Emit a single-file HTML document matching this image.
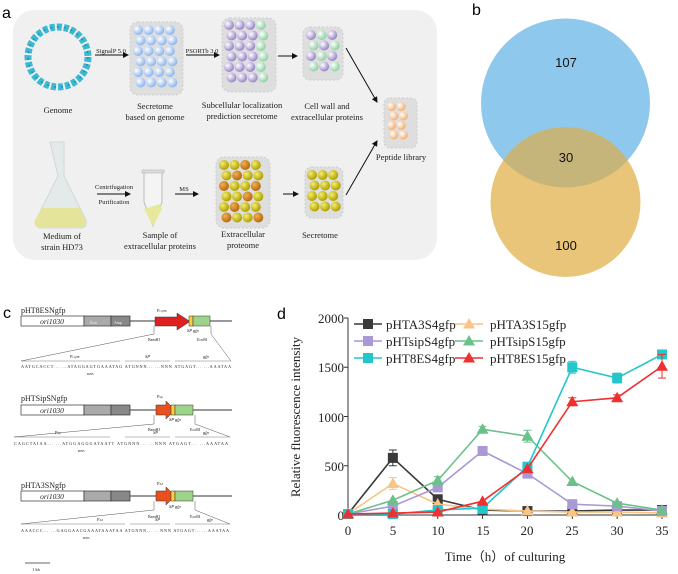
<!DOCTYPE html>
<html><head><meta charset="utf-8"><style>
html,body{margin:0;padding:0;background:#fff}
svg{display:block}
.s{font-family:"Liberation Serif",serif}
.a{font-family:"Liberation Sans",sans-serif}
</style></head><body>
<svg id="g" width="678" height="574" viewBox="0 0 678 574" xmlns="http://www.w3.org/2000/svg">
<defs>
<marker id="ar" markerWidth="6" markerHeight="6" refX="5" refY="3" orient="auto"><path d="M0,0 L6,3 L0,6z" fill="#111"/></marker>
<radialGradient id="bb" cx="35%" cy="35%" r="65%"><stop offset="0" stop-color="#fff"/><stop offset="1" stop-color="#8fb6ec"/></radialGradient>
<radialGradient id="bp" cx="35%" cy="35%" r="65%"><stop offset="0" stop-color="#fff"/><stop offset="1" stop-color="#9a86c8"/></radialGradient>
<radialGradient id="bg" cx="35%" cy="35%" r="65%"><stop offset="0" stop-color="#fff"/><stop offset="1" stop-color="#8fd2a4"/></radialGradient>
<radialGradient id="bo" cx="35%" cy="35%" r="65%"><stop offset="0" stop-color="#fff"/><stop offset="1" stop-color="#f5b070"/></radialGradient>
<radialGradient id="by" cx="35%" cy="35%" r="65%"><stop offset="0" stop-color="#f4ee70"/><stop offset="1" stop-color="#b0a000"/></radialGradient>
<radialGradient id="bd" cx="35%" cy="35%" r="65%"><stop offset="0" stop-color="#f2b050"/><stop offset="1" stop-color="#b86a10"/></radialGradient>
</defs>
<!-- panel a -->
<text x="2" y="18" class="a" font-size="16">a</text>
<rect x="13" y="10" width="424" height="250" rx="22" fill="#f0f0f0"/>
<circle cx="58" cy="57" r="30" fill="none" stroke="#3cb9d0" stroke-width="7" stroke-dasharray="5 2"/>
<circle cx="58" cy="57" r="30" fill="none" stroke="#1e90b8" stroke-width="1.5" stroke-dasharray="2 5"/>
<g id="boxes">
<rect x="130" y="22" width="53" height="73" rx="8" fill="#dedede" stroke="#ccc" stroke-dasharray="2 2"/>
<rect x="222" y="18" width="54" height="74" rx="8" fill="#dedede" stroke="#ccc" stroke-dasharray="2 2"/>
<rect x="303" y="27" width="40" height="53" rx="7" fill="#dedede" stroke="#ccc" stroke-dasharray="2 2"/>
<rect x="384" y="98" width="33" height="50" rx="6" fill="#dedede" stroke="#ccc" stroke-dasharray="2 2"/>
<rect x="216" y="157" width="54" height="71" rx="8" fill="#dedede" stroke="#ccc" stroke-dasharray="2 2"/>
<rect x="305" y="167" width="38" height="51" rx="7" fill="#dedede" stroke="#ccc" stroke-dasharray="2 2"/>
</g>
<g id="balls"></g>
<!-- flask -->
<path d="M50,142 h14 v34 l22,44 q2,8 -6,8 h-38 q-8,0 -6,-8 l22,-44z" fill="#e4eaea" stroke="#cfd8d8"/>
<path d="M42,208 h38 l5,12 q2,8 -6,8 h-38 q-8,0 -6,-8z" fill="#e4e49a"/>
<!-- tube -->
<path d="M144,172 h18 v30 l-9,24 l-9,-24z" fill="#f4f4f4" stroke="#bbb"/>
<path d="M144,209 l9,17 l9,-17 l-2,-5 z" fill="#e8e89a"/>
<rect x="142" y="170" width="22" height="3" fill="#ddd" stroke="#aaa" stroke-width=".5"/>
<g stroke="#111" stroke-width="1" marker-end="url(#ar)" fill="none">
<line x1="95" y1="55" x2="128" y2="55"/><line x1="186" y1="55" x2="219" y2="55"/>
<line x1="278" y1="56" x2="297" y2="56"/><line x1="346" y1="48" x2="377" y2="102"/>
<line x1="97" y1="194" x2="130" y2="194"/><line x1="175" y1="194" x2="198" y2="194"/>
<line x1="283" y1="194" x2="298" y2="194"/><line x1="346" y1="195" x2="377" y2="141"/>
</g>
<g class="s" font-size="8.5" text-anchor="middle" fill="#222">
<text x="111" y="53" font-size="6.5">SignalP 5.0</text><text x="202" y="53" font-size="6.5">PSORTb 3.0</text>
<text x="114" y="189" font-size="6.5">Centrifugation</text><text x="114" y="204" font-size="6.5">Purification</text>
<text x="184" y="191" font-size="6.5">MS</text>
<text x="58" y="113">Genome</text>
<text x="155" y="109">Secretome</text><text x="155" y="120">based on genome</text>
<text x="242" y="108">Subcellular localization</text><text x="242" y="119">prediction secretome</text>
<text x="327" y="109">Cell wall and</text><text x="327" y="120">extracellular proteins</text>
<text x="401" y="160">Peptide library</text>
<text x="62" y="239">Medium of</text><text x="62" y="250">strain HD73</text>
<text x="160" y="238">Sample of</text><text x="160" y="249">extracellular proteins</text>
<text x="243" y="237">Extracellular</text><text x="243" y="248">proteome</text>
<text x="320" y="238">Secretome</text>
</g>
<!-- panel b -->
<text x="472" y="15" class="a" font-size="16">b</text>
<circle cx="565.5" cy="103" r="84.5" fill="#8fc8ed"/>
<circle cx="565.5" cy="202" r="75" fill="#e8c578"/>
<clipPath id="cb"><circle cx="565.5" cy="103" r="84.5"/></clipPath>
<circle cx="565.5" cy="202" r="75" fill="#c6b57b" clip-path="url(#cb)"/>
<g class="a" font-size="13" text-anchor="middle" fill="#111">
<text x="566" y="67">107</text><text x="566" y="162">30</text><text x="566" y="250">100</text>
</g>
<!-- panel c -->
<text x="3" y="318" class="a" font-size="16">c</text>
<g class="s" fill="#222">
<text x="21" y="313" font-size="8">pHT8ESNgfp</text>
<line x1="130" y1="321" x2="232" y2="321" stroke="#333"/>
<rect x="21" y="316" width="63" height="10" fill="#fff" stroke="#333" stroke-width=".7"/>
<rect x="84" y="316" width="27" height="10" fill="#aaa" stroke="#333" stroke-width=".7"/>
<rect x="111" y="316" width="19" height="10" fill="#888" stroke="#333" stroke-width=".7"/>
<text x="52" y="324" font-size="7.5" font-style="italic" text-anchor="middle">ori1030</text>
<text x="90" y="324" font-size="4" fill="#eee">Erm</text><text x="114" y="324" font-size="4" fill="#eee">Amp</text>
<path d="M155,317 h22 v-4 l13,8.5 l-13,8.5 v-4 h-22z" fill="#e02020" stroke="#333" stroke-width=".5"/>
<rect x="189" y="316" width="4" height="10" fill="#f5d040" stroke="#333" stroke-width=".5"/>
<rect x="193" y="316" width="17" height="10" fill="#9ed48a" stroke="#333" stroke-width=".5"/>
<text x="157" y="312" font-size="4.5">P<tspan font-size="3">cry8E</tspan></text>
<text x="187" y="332" font-size="4.5" font-style="italic">SP gfp</text>
<text x="148" y="341" font-size="4">BamHI</text><text x="197" y="341" font-size="4">EcoRI</text>
<line x1="154" y1="326" x2="154" y2="334" stroke="#555" stroke-width=".5"/><line x1="211" y1="326" x2="211" y2="334" stroke="#555" stroke-width=".5"/>
<line x1="154" y1="334" x2="21" y2="361" stroke="#555" stroke-width=".5"/><line x1="211" y1="334" x2="231" y2="361" stroke="#555" stroke-width=".5"/>
<text x="70" y="358" font-size="4.5">P<tspan font-size="3">cry8E</tspan></text><text x="145" y="358" font-size="4.5" font-style="italic">SP</text><text x="203" y="358" font-size="4.5" font-style="italic">gfp</text>
<line x1="21" y1="361" x2="120" y2="361" stroke="#555" stroke-width=".4"/><line x1="125" y1="361" x2="170" y2="361" stroke="#555" stroke-width=".4"/><line x1="175" y1="361" x2="231" y2="361" stroke="#555" stroke-width=".4"/>
<text x="21" y="368" font-size="4.2" textLength="210">AATGCACCT... ...ATAGGAGTGAAATAG ATGNNN... ...NNN ATGAGT... ...AAATAA</text>
<text x="87" y="375" font-size="3.5">RBS</text>
</g>
<g class="s" fill="#222">
<text x="21" y="401" font-size="8">pHTSipSNgfp</text>
<line x1="130" y1="410" x2="232" y2="410" stroke="#333"/>
<rect x="21" y="405" width="63" height="10" fill="#fff" stroke="#333" stroke-width=".7"/>
<rect x="84" y="405" width="27" height="10" fill="#aaa" stroke="#333" stroke-width=".7"/>
<rect x="111" y="405" width="19" height="10" fill="#888" stroke="#333" stroke-width=".7"/>
<text x="52" y="413" font-size="7.5" font-style="italic" text-anchor="middle">ori1030</text>
<path d="M156,405 h10 v-4 l9,9 l-9,9 v-4 h-10z" fill="#e8501e" stroke="#333" stroke-width=".5"/>
<rect x="171" y="405" width="4" height="10" fill="#f5d040" stroke="#333" stroke-width=".5"/>
<rect x="175" y="405" width="18" height="10" fill="#9ed48a" stroke="#333" stroke-width=".5"/>
<text x="157" y="398" font-size="4.5">P<tspan font-size="3">sip</tspan></text>
<text x="169" y="421" font-size="4.5" font-style="italic">SP gfp</text>
<text x="148" y="431" font-size="4">BamHI</text><text x="190" y="431" font-size="4">EcoRI</text>
<line x1="154" y1="415" x2="154" y2="424" stroke="#555" stroke-width=".5"/><line x1="195" y1="415" x2="195" y2="424" stroke="#555" stroke-width=".5"/>
<line x1="154" y1="424" x2="14" y2="437" stroke="#555" stroke-width=".5"/><line x1="195" y1="424" x2="230" y2="437" stroke="#555" stroke-width=".5"/>
<text x="55" y="434" font-size="4.5">P<tspan font-size="3">sip</tspan></text><text x="153" y="434" font-size="4.5" font-style="italic">SP</text><text x="203" y="434" font-size="4.5" font-style="italic">gfp</text>
<line x1="14" y1="437" x2="110" y2="437" stroke="#555" stroke-width=".4"/><line x1="125" y1="437" x2="170" y2="437" stroke="#555" stroke-width=".4"/><line x1="175" y1="437" x2="230" y2="437" stroke="#555" stroke-width=".4"/>
<text x="14" y="445" font-size="4.2" textLength="214">CAGCTAIAA... ...ATGGAGGGATAATT ATGNNN... ...NNN ATGAGT... ...AAATAA</text>
<text x="78" y="452" font-size="3.5">RBS</text>
</g>
<g class="s" fill="#222">
<text x="21" y="488" font-size="8">pHTA3SNgfp</text>
<line x1="130" y1="496" x2="232" y2="496" stroke="#333"/>
<rect x="21" y="491" width="63" height="10" fill="#fff" stroke="#333" stroke-width=".7"/>
<rect x="84" y="491" width="27" height="10" fill="#aaa" stroke="#333" stroke-width=".7"/>
<rect x="111" y="491" width="19" height="10" fill="#888" stroke="#333" stroke-width=".7"/>
<text x="52" y="499" font-size="7.5" font-style="italic" text-anchor="middle">ori1030</text>
<path d="M156,491 h10 v-4 l9,9 l-9,9 v-4 h-10z" fill="#e8501e" stroke="#333" stroke-width=".5"/>
<rect x="171" y="491" width="4" height="10" fill="#f5d040" stroke="#333" stroke-width=".5"/>
<rect x="175" y="491" width="18" height="10" fill="#9ed48a" stroke="#333" stroke-width=".5"/>
<text x="157" y="485" font-size="4.5">P<tspan font-size="3">A3</tspan></text>
<text x="169" y="508" font-size="4.5" font-style="italic">SP gfp</text>
<text x="148" y="518" font-size="4">BamHI</text><text x="190" y="518" font-size="4">EcoRI</text>
<line x1="154" y1="501" x2="154" y2="510" stroke="#555" stroke-width=".5"/><line x1="195" y1="501" x2="195" y2="510" stroke="#555" stroke-width=".5"/>
<line x1="154" y1="510" x2="21" y2="524" stroke="#555" stroke-width=".5"/><line x1="195" y1="510" x2="230" y2="524" stroke="#555" stroke-width=".5"/>
<text x="97" y="521" font-size="4.5">P<tspan font-size="3">A3</tspan></text><text x="155" y="521" font-size="4.5" font-style="italic">SP</text><text x="207" y="521" font-size="4.5" font-style="italic">gfp</text>
<line x1="21" y1="524" x2="125" y2="524" stroke="#555" stroke-width=".4"/><line x1="130" y1="524" x2="170" y2="524" stroke="#555" stroke-width=".4"/><line x1="175" y1="524" x2="230" y2="524" stroke="#555" stroke-width=".4"/>
<text x="21" y="532" font-size="4.2" textLength="208">AAACCC... ...GAGGAACGAAATAAATAA ATGNNN... ...NNN ATGAGT... ...AAATAA</text>
<text x="83" y="539" font-size="3.5">RBS</text>
<line x1="25" y1="563" x2="50" y2="563" stroke="#333" stroke-width=".7"/>
<text x="32" y="571" font-size="4.5">1 kb</text>
</g>
<!-- panel d -->
<text x="277" y="319" class="a" font-size="16">d</text>
<g class="s" font-size="13" fill="#222">
<line x1="348" y1="318" x2="348" y2="515" stroke="#333"/>
<line x1="348" y1="515" x2="662" y2="515" stroke="#333"/>
<g id="ticks" stroke="#333"></g>
<g text-anchor="end">
<text x="344" y="520">0</text><text x="344" y="471">500</text><text x="344" y="422">1000</text><text x="344" y="372">1500</text><text x="344" y="323">2000</text>
</g>
<g text-anchor="middle">
<text x="348" y="535">0</text><text x="393" y="535">5</text><text x="438" y="535">10</text><text x="483" y="535">15</text><text x="527" y="535">20</text><text x="572" y="535">25</text><text x="617" y="535">30</text><text x="662" y="535">35</text>
<text x="505" y="561">Time（h）of culturing</text>
<text transform="translate(300,417) rotate(-90)">Relative fluorescence intensity</text>
</g>
<g id="series"></g>
<text x="386" y="329">pHTA3S4gfp</text><text x="490" y="329">pHTA3S15gfp</text>
<text x="386" y="346">pHTsipS4gfp</text><text x="490" y="346">pHTsipS15gfp</text>
<text x="386" y="363">pHT8ES4gfp</text><text x="490" y="363">pHT8ES15gfp</text>
</g>
</svg>
<script>
var NS="http://www.w3.org/2000/svg";
function el(p,t,a){var e=document.createElementNS(NS,t);for(var k in a)e.setAttribute(k,a[k]);p.appendChild(e);return e;}
var B=document.getElementById("balls");
function grid(x0,y0,x1,y1,r,fills){var i=0,row=0;for(var y=y0+r;y<=y1-r+0.1;y+=2*r+0.5){var off=(row%2)?r*0.5:0;row++;for(var x=x0+r+off;x<=x1-r+0.1;x+=2*r+0.6){el(B,"circle",{cx:x,cy:y,r:r,fill:"url(#"+fills[(i*7+3)%fills.length]+")"});i++;}}}
grid(133,25,181,93,5,["bb"]);
grid(224,20,274,90,5,["bg","bp","bp","bp"]);
grid(306,30,341,78,5,["bg","bp"]);
grid(387,102,414,146,4.5,["bo"]);
grid(219,160,268,226,5,["by","by","bd"]);
grid(307,170,341,216,5,["by"]);
var T=document.getElementById("ticks");
for(var i=0;i<=7;i++){var x=348+i*314/7;el(T,"line",{x1:x,y1:515,x2:x,y2:519});}
for(var i=0;i<=4;i++){var y=515-i*49.25;el(T,"line",{x1:344,y1:y,x2:348,y2:y});}
var S=document.getElementById("series");
function X(t){return 348+t*314/35}function Y(v){return 515-v*0.0985}
var ds=[
["#3a3a3a","s",[10,580,160,50,40,40,50,50],[0,80,30,0,0,0,0,0],0],
["#f8c488","t",[10,320,110,60,40,30,30,20],[0,60,0,0,0,0,0,0],1],
["#a99ad6","s",[10,90,280,650,420,110,90,40],[0,0,0,0,0,0,0,0],2],
["#6cc08a","t",[10,150,350,870,800,340,120,50],[0,0,40,30,60,0,0,0],3],
["#22c6cb","s",[10,10,50,70,490,1500,1390,1630],[0,0,0,0,0,60,50,30],4],
["#ee3030","t",[10,20,30,140,470,1150,1190,1510],[0,0,0,0,0,40,30,120],5]];
function mk(x,y,c,t){if(t=="s")el(S,"rect",{x:x-5,y:y-5,width:10,height:10,fill:c});else el(S,"path",{d:"M"+x+","+(y-6)+" L"+(x+6)+","+(y+4.5)+" L"+(x-6)+","+(y+4.5)+"z",fill:c});}
ds.forEach(function(d){var pts=d[2].map(function(v,i){return X(i*5)+","+Y(v)}).join(" ");
el(S,"polyline",{points:pts,fill:"none",stroke:d[0],"stroke-width":1.6});
d[2].forEach(function(v,i){var x=X(i*5),y=Y(v),e=d[3][i];if(e){el(S,"line",{x1:x,y1:Y(v-e),x2:x,y2:Y(v+e),stroke:d[0]});el(S,"line",{x1:x-4,y1:Y(v+e),x2:x+4,y2:Y(v+e),stroke:d[0]});el(S,"line",{x1:x-4,y1:Y(v-e),x2:x+4,y2:Y(v-e),stroke:d[0]});}
mk(x,y,d[0],d[1]);});
var j=d[4],lx=(j%2?455:354),ly=324+Math.floor(j/2)*17;
el(S,"line",{x1:lx,y1:ly,x2:lx+28,y2:ly,stroke:d[0],"stroke-width":1.6});mk(lx+14,ly,d[0],d[1]);});
</script>
</body></html>
